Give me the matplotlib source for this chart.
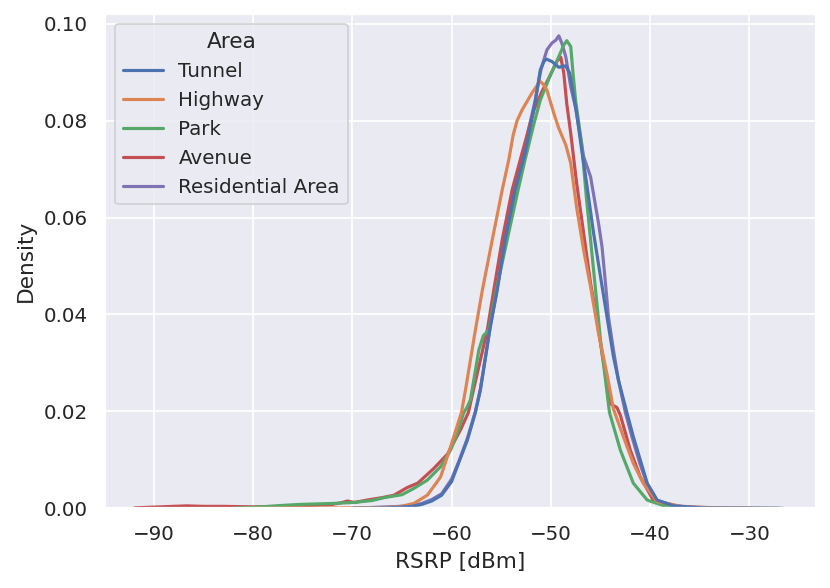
import matplotlib
matplotlib.use("Agg")
import matplotlib.pyplot as plt
import seaborn as sns

# KDE curves (RSRP in dBm, density)
areas = ["Tunnel", "Highway", "Park", "Avenue", "Residential Area"]

tunnel_x = [-70, -66, -64, -63, -62, -61, -60, -59.3, -58.4, -57.6, -57.1, -56.1,
            -55.4, -54.6, -53.6, -52.6, -51.6, -51.06, -50.7, -50.45, -49.9, -49.2,
            -48.8, -48.5, -48.1, -47.7, -47.4, -46.9, -46.4, -45.7, -45.0, -44.3,
            -43.7, -43.2, -42.35, -41.7, -41.0, -40.3, -39.3, -37.6, -35, -27]
tunnel_y = [0.0, 0.0001, 0.0004, 0.0008, 0.0015, 0.0027, 0.0055, 0.0093, 0.0141,
            0.0198, 0.0244, 0.0375, 0.045, 0.0554, 0.0657, 0.0733, 0.0836, 0.0905,
            0.0922, 0.0927, 0.0922, 0.0910, 0.0912, 0.0913, 0.0898, 0.0850, 0.0815,
            0.0740, 0.0671, 0.0568, 0.0478, 0.0389, 0.0313, 0.0265, 0.0198, 0.0148,
            0.0100, 0.0052, 0.0017, 0.0005, 0.0001, 0.0]

highway_x = [-80, -70, -66, -65.1, -63.8, -62.45, -61.8, -61.1, -60.1, -59.0, -58.6,
             -57.6, -56.9, -55.9, -54.9, -54.24, -53.8, -53.4, -52.9, -51.9, -51.4,
             -51.1, -50.8, -50.4, -49.7, -49.2, -48.5, -48.0, -47.4, -46.7, -46.0,
             -45.2, -44.3, -43.7, -42.7, -41.7, -40.7, -39.3, -36.6, -33, -29]
highway_y = [0.0, 0.0001, 0.0002, 0.0004, 0.0010, 0.0027, 0.0045, 0.0065, 0.0127,
             0.0198, 0.0244, 0.0368, 0.0450, 0.0554, 0.0657, 0.0719, 0.0770, 0.0800,
             0.0822, 0.0857, 0.0872, 0.0881, 0.0876, 0.0863, 0.0815, 0.0784, 0.0750,
             0.0712, 0.0620, 0.0533, 0.0457, 0.0361, 0.0272, 0.0205, 0.0148, 0.0093,
             0.0052, 0.0014, 0.0003, 0.0001, 0.0]

park_x = [-82, -80, -77, -75.3, -72, -69.9, -68, -66.8, -65, -63.8, -62.45, -61.1,
          -60.1, -59.3, -58.8, -58.4, -58.1, -57.25, -56.8, -56.25, -55.5, -54.4,
          -53.3, -52.6, -51.7, -51.05, -50.05, -49.2, -48.7, -48.4, -48.0, -47.8,
          -47.5, -46.9, -46.4, -45.9, -45.4, -45.0, -44.5, -44.1, -43.0, -41.7,
          -40.3, -38.3, -35]
park_y = [0.0, 0.0002, 0.0006, 0.0008, 0.0010, 0.0012, 0.0016, 0.0022, 0.0028,
          0.0041, 0.0058, 0.0086, 0.0120, 0.0162, 0.0196, 0.0210, 0.0224, 0.0327,
          0.0356, 0.0368, 0.0450, 0.0554, 0.0657, 0.0719, 0.0794, 0.0843, 0.0894,
          0.0932, 0.0956, 0.0965, 0.0953, 0.0905, 0.0840, 0.0753, 0.0636, 0.0533,
          0.0430, 0.0347, 0.0265, 0.0198, 0.0120, 0.0052, 0.0017, 0.0003, 0.0]

avenue_x = [-92, -91.8, -88, -86.7, -85, -83, -80, -77, -75, -72, -71, -70.5, -69.8,
            -68.5, -67, -65.8, -64.45, -63.4, -61.8, -60.4, -59.1, -58.3, -57.8,
            -56.4, -55.75, -54.9, -53.9, -52.9, -51.7, -50.9, -50.05, -49.4, -49.0,
            -48.7, -48.4, -48.0, -47.4, -46.7, -46.0, -45.4, -44.85, -44.3, -43.95,
            -43.35, -43.0, -42.0, -41.0, -39.7, -37, -34]
avenue_y = [0.0, 0.0001, 0.0004, 0.0005, 0.0004, 0.0004, 0.0003, 0.0004, 0.0005,
            0.0008, 0.0012, 0.0015, 0.0012, 0.0017, 0.0022, 0.0027, 0.0043, 0.0052,
            0.0082, 0.0112, 0.0162, 0.0198, 0.0244, 0.0368, 0.0450, 0.0554, 0.0657,
            0.0733, 0.0822, 0.0860, 0.0894, 0.0922, 0.0931, 0.0898, 0.0835, 0.0774,
            0.0670, 0.0568, 0.0464, 0.0395, 0.0320, 0.0250, 0.0215, 0.0208, 0.0192,
            0.0120, 0.0065, 0.0017, 0.0003, 0.0]

resid_x = [-70, -64, -63, -62, -61, -60, -59.3, -58.4, -57.6, -57.1, -56.1, -55.4,
           -54.6, -53.6, -52.6, -51.6, -51.0, -50.4, -49.9, -49.5, -49.2, -48.9,
           -48.5, -48.0, -47.5, -46.7, -46.0, -45.2, -44.85, -44.5, -44.2, -43.7,
           -43.2, -42.5, -41.8, -41.0, -40.3, -39.3, -37.6, -34, -26.6]
resid_y = [0.0, 0.0005, 0.0010, 0.0018, 0.0030, 0.0060, 0.0095, 0.0145, 0.0200,
           0.0246, 0.0375, 0.0455, 0.0560, 0.0660, 0.0750, 0.0840, 0.0905, 0.0946,
           0.0960, 0.0966, 0.0975, 0.0960, 0.0932, 0.0870, 0.0825, 0.0726, 0.0684,
           0.0588, 0.0540, 0.0464, 0.0395, 0.0327, 0.0265, 0.0198, 0.0145, 0.0090,
           0.0050, 0.0016, 0.0005, 0.0001, 0.0]

series_x = [tunnel_x, highway_x, park_x, avenue_x, resid_x]
series_y = [tunnel_y, highway_y, park_y, avenue_y, resid_y]


def main():
    sns.set_theme()
    colors = sns.color_palette("deep", len(areas))

    fig = plt.figure(figsize=(830 / 130, 588 / 130), dpi=130)
    ax = fig.add_axes([105 / 830, 1 - 508.3 / 588, (816 - 105) / 830, (508.3 - 14) / 588])

    lines = {}
    # seaborn draws the first hue level last, so it sits on top
    for i in reversed(range(len(areas))):
        (line,) = ax.plot(series_x[i], series_y[i], color=colors[i], lw=1.75,
                          label=areas[i], solid_joinstyle="round")
        lines[areas[i]] = line

    ax.set_xlim(-94.9, -23.3)
    ax.set_ylim(0, 0.102)
    ax.set_xlabel("RSRP [dBm]")
    ax.set_ylabel("Density")
    ax.legend([lines[a] for a in areas], areas, title="Area", loc="upper left")

    fig.savefig("out.png", dpi=130)


if __name__ == "__main__":
    main()
